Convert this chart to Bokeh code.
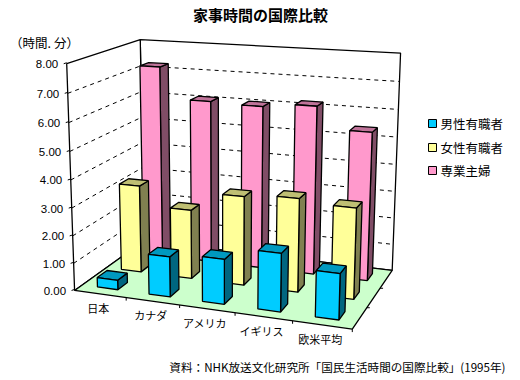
import numpy as np
from bokeh.plotting import figure
from bokeh.core.properties import value
from bokeh.embed import file_html
from bokeh.resources import INLINE

TITLE = "家事時間の国際比較"
UNIT = "（時間. 分）"
SOURCE = "資料：NHK放送文化研究所「国民生活時間の国際比較」(1995年)"
categories = ["日本", "カナダ", "アメリカ", "イギリス", "欧米平均"]
value_ticks = [0, 1, 2, 3, 4, 5, 6, 7, 8]
series_names = ["男性有職者", "女性有職者", "専業主婦"]
men_employed = [0.35, 1.45, 1.60, 2.05, 1.60]
women_employed = [3.25, 2.55, 3.25, 3.38, 3.25]
housewives = [7.25, 6.10, 6.05, 6.20, 5.42]
series_values = [men_employed, women_employed, housewives]
face_colors = ["#00CCFF", "#FFFF99", "#FF99CC"]
top_colors = ["#0099BF", "#BFBF73", "#BF7399"]
side_colors = ["#006680", "#808050", "#804D66"]

N, S, VMAX = len(categories), len(series_names), value_ticks[-1]

# Calibration of the chart's 3D camera: (category pos, depth pos, value) -> page pixel
calibration = [
    ((0, 0, 0), (75, 289)), ((1, 0, 0), (352, 328)), ((1, 1, 0), (392, 269)),
    ((0, 1, 0), (143, 241)), ((0, 0, 8), (66, 63)), ((0, 1, 8), (140, 39)),
    ((1, 1, 8), (400, 53)), ((.2, 0, 0), (125.5, 297)), ((.4, 0, 0), (179, 305)),
    ((.6, 0, 0), (234, 313)), ((.8, 0, 0), (292, 321)),
]
rows = []
for (a, b, c), (x, y) in calibration:
    c = c / VMAX
    rows.append([a, b, c, 1, 0, 0, 0, 0, -x*a, -x*b, -x*c, -x])
    rows.append([0, 0, 0, 0, a, b, c, 1, -y*a, -y*b, -y*c, -y])
P = np.linalg.svd(np.array(rows, float))[2][-1].reshape(3, 4)


def proj(u, d, v):
    h = P @ np.array([u, d, v / VMAX, 1.0])
    return h[0] / h[2], h[1] / h[2]


def poly(pts):
    q = [proj(*t) for t in pts]
    return [a for a, _ in q], [b for _, b in q]


p = figure(width=512, height=376, x_range=(0, 512), y_range=(376, 0),
           output_backend="svg", toolbar_location=None, min_border=0,
           outline_line_color=None, background_fill_color="white", border_fill_color="white")
p.axis.visible = False
p.grid.visible = False

LW = 1.3
walls = [
    ([(0, 1, 0), (1, 1, 0), (1, 1, VMAX), (0, 1, VMAX)], "white"),
    ([(0, 0, 0), (0, 1, 0), (0, 1, VMAX), (0, 0, VMAX)], "white"),
    ([(0, 0, 0), (1, 0, 0), (1, 1, 0), (0, 1, 0)], "#CCFFCC"),
]
for pts, col in walls:
    xs, ys = poly(pts)
    p.patch(xs, ys, fill_color=col, line_color="black", line_width=LW)

for v in value_ticks[1:-1]:
    xs, ys = poly([(0, 0, v), (0, 1, v), (1, 1, v)])
    p.line(xs, ys, line_color="black", line_width=1, line_dash="4 4")

# value ticks and labels
for v in value_ticks:
    x, y = proj(0, 0, v)
    p.line([x - 3, x], [y, y - 1], line_color="black", line_width=1)
    p.text([x - 8.5], [y + 0.5], text=[f"{v:.2f}"], text_align="right", text_baseline="middle",
           text_font=value("Liberation Sans"), text_font_size="11.5px", text_color="black")
# category ticks and labels
for k, name in enumerate(categories):
    x, y = proj((k + 1) / N, 0, 0)
    p.line([x, x], [y, y + 3], line_color="black", line_width=1)
    cx, cy = proj((k + .5) / N, 0, 0)
    p.text([cx - 2], [cy + 14], text=[name], text_align="center", text_baseline="middle",
           text_font=value("Noto Sans CJK JP"), text_font_size="11px", text_color="black")
for s in range(1, S):
    x, y = proj(1, s / S, 0)
    p.line([x, x + 3], [y, y], line_color="black", line_width=1)

# bars, back row first
HW = 0.4 / N / 2
HD = 0.4 / S / 2
for s in reversed(range(S)):
    for k in range(N):
        v = series_values[s][k]
        u0, u1 = (k + .5) / N - HW, (k + .5) / N + HW
        d0, d1 = (s + .5) / S - HD, (s + .5) / S + HD
        for pts, col in [
            ([(u1, d0, 0), (u1, d1, 0), (u1, d1, v), (u1, d0, v)], side_colors[s]),
            ([(u0, d0, v), (u1, d0, v), (u1, d1, v), (u0, d1, v)], top_colors[s]),
            ([(u0, d0, 0), (u1, d0, 0), (u1, d0, v), (u0, d0, v)], face_colors[s]),
        ]:
            xs, ys = poly(pts)
            p.patch(xs, ys, fill_color=col, line_color="black", line_width=LW)

# legend
for i, name in enumerate(series_names):
    y = [123, 147, 170][i]
    p.scatter([432], [y], marker="square", size=8, fill_color=face_colors[i], line_color="black", line_width=1)
    p.text([440], [y], text=[name], text_baseline="middle", text_align="left",
           text_font=value("Noto Sans CJK JP"), text_font_size="12.5px", text_color="black")

p.text([260], [14], text=[TITLE], text_align="center", text_baseline="middle", text_font_style="bold",
       text_font=value("Noto Sans CJK JP"), text_font_size="15px", text_color="black")
p.text([44], [42], text=[UNIT], text_align="center", text_baseline="middle",
       text_font=value("Noto Sans CJK JP"), text_font_size="12.5px", text_color="black")
p.text([505], [366], text=[SOURCE], text_align="right", text_baseline="middle",
       text_font=value("Noto Sans CJK JP"), text_font_size="11.6px", text_color="black")

open("out.html", "w").write(file_html(p, INLINE))
